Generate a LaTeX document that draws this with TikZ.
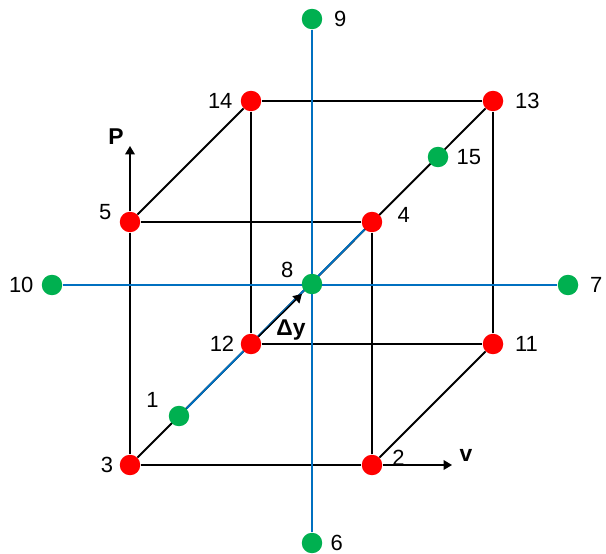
\documentclass[tikz,border=0pt]{standalone}
\usepackage{fontspec}
\setmainfont{Liberation Sans}
\usetikzlibrary{arrows.meta,backgrounds}
\definecolor{axisblue}{RGB}{0,112,192}
\definecolor{ptgreen}{RGB}{0,176,80}
\tikzset{
  >=Triangle,
  pt/.style={circle,inner sep=0pt,minimum size=0.41cm},
  redpt/.style={pt,fill=red},
  greenpt/.style={pt,fill=ptgreen},
  every label/.style={font=\fontsize{12.5}{14}\selectfont,label distance=1pt},
  cubeedge/.style={line width=1.1pt,black},
  axisline/.style={line width=1.1pt,axisblue},
  var/.style={font=\fontsize{13}{15}\selectfont\bfseries},
}

\begin{document}
\begin{tikzpicture}[x=0.02cm,y=-0.02cm]
\useasboundingbox (0,0) rectangle (606,554);

% cube corners
\node[redpt,label={[label distance=0pt]left:3}] (n3) at (130,465) {};
\node[redpt,label={[label distance=2pt,yshift=0.14cm]right:2}] (n2) at (372,465) {};
\node[redpt,label={[label distance=5pt,yshift=0.14cm]right:4}] (n4) at (372,222) {};
\node[redpt,label={[yshift=0.2cm]left:5}] (n5) at (130,222) {};
\node[redpt,label={[label distance=0pt]left:12}] (n12) at (251,344) {};
\node[redpt,label={[label distance=3pt]right:11}] (n11) at (493,344) {};
\node[redpt,label={[label distance=3pt]right:13}] (n13) at (493,101) {};
\node[redpt,label=left:14] (n14) at (251,101) {};

% centre and axis points
\node[greenpt,label={[yshift=0.28cm]left:8}] (n8) at (312,284) {};
\node[greenpt,label={[label distance=3pt]right:9}] (n9) at (312,19) {};
\node[greenpt,label=right:6] (n6) at (312,543) {};
\node[greenpt,label=left:10] (n10) at (52,285) {};
\node[greenpt,label={[label distance=3pt]right:7}] (n7) at (568,285) {};
\node[greenpt,label={[label distance=2pt,yshift=0.32cm]left:1}] (n1) at (179,416) {};
\node[greenpt,label=right:15] (n15) at (438,157) {};

\coordinate (Ptip) at (130,146);
\coordinate (vtip) at (452,465);

\begin{scope}[on background layer]
\draw[cubeedge] (n3) -- (n2) -- (n4) -- (n5) -- (n3);
\draw[cubeedge] (n12) -- (n11) -- (n13) -- (n14) -- (n12);
\draw[cubeedge] (n5) -- (n14) (n2) -- (n11);
\draw[cubeedge] (n3) -- (n13);
\draw[axisline] (n9) -- (n6);
\draw[axisline] (n10) -- (n7);
\draw[axisline] (n1) -- (n4);
\draw[->,line width=0.8pt,shorten >=2pt] (n12) -- (n8);
\draw[->,line width=0.8pt] (n5) -- (Ptip);
\draw[->,line width=0.8pt] (n2) -- (vtip);
\end{scope}

\node[var] (Plbl) at (116,137) {P};
\node[var] (vlbl) at (466,455) {v};
\node[var] (dy) at (291,330) {Δy};

\end{tikzpicture}
\end{document}
